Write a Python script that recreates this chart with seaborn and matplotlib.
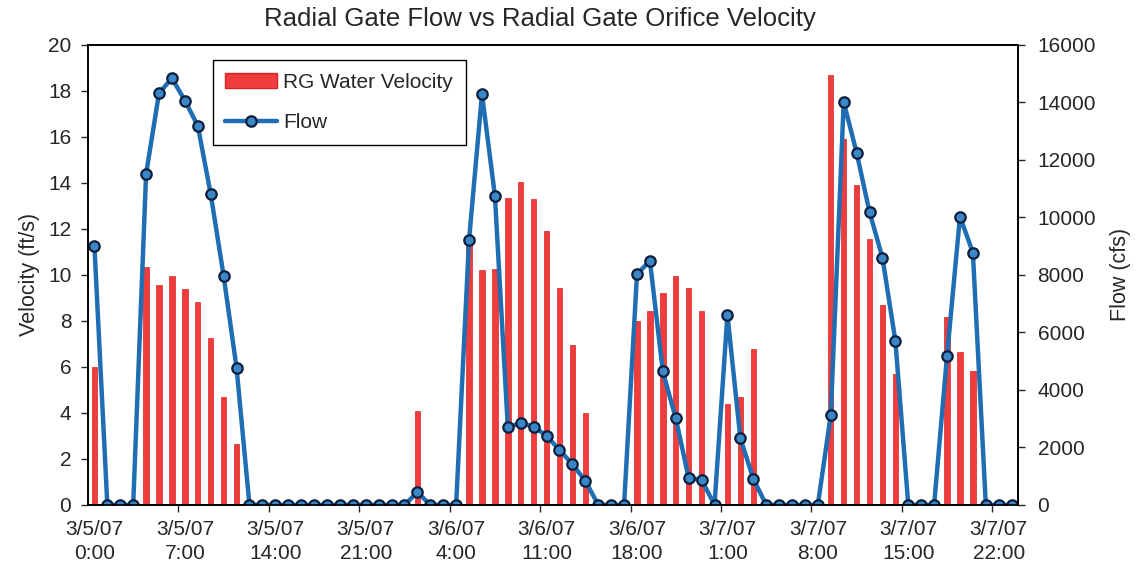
# Radial gate flow vs orifice velocity, 3/5/07 - 3/7/07 (hourly)
import numpy as np
import matplotlib
matplotlib.use("Agg")
import matplotlib.pyplot as plt
from matplotlib.patches import Patch
from matplotlib.lines import Line2D
import seaborn as sns

# hourly index 0..71 starting 3/5/07 0:00
hours = list(range(72))

# RG water velocity (ft/s), left axis
velocity = [6.0, 0, 0, 0, 10.35, 9.58, 9.93, 9.4, 8.8, 7.25, 4.68, 2.64,
            0, 0, 0, 0, 0, 0, 0, 0, 0, 0, 0, 0, 0,
            4.1, 0, 0, 0,
            11.3, 10.2, 10.25, 13.36, 14.03, 13.3, 11.91, 9.45, 6.93, 3.99,
            0, 0, 0,
            8.0, 8.45, 9.23, 9.96, 9.42, 8.45, 0, 4.39, 4.68, 6.78,
            0, 0, 0, 0, 0,
            18.7, 15.9, 13.9, 11.57, 8.67, 5.68,
            0, 0, 0,
            8.16, 6.64, 5.83,
            0, 0, 0]

# flow (cfs), right axis
flow = [9000, 0, 0, 0, 11510, 14320, 14840, 14065, 13190, 10815, 7970, 4775,
        0, 0, 0, 0, 0, 0, 0, 0, 0, 0, 0, 0, 0,
        440, 0, 0, 0,
        9215, 14290, 10760, 2705, 2840, 2725, 2400, 1910, 1415, 835,
        0, 0, 0,
        8025, 8490, 4640, 3015, 930, 870, 0, 6610, 2320, 910,
        0, 0, 0, 0, 0,
        3130, 14010, 12255, 10185, 8600, 5705,
        0, 0, 0,
        5190, 10030, 8775,
        0, 0, 0]

tick_pos = [0, 7, 14, 21, 28, 35, 42, 49, 56, 63, 70]
tick_labels = ["3/5/07\n0:00", "3/5/07\n7:00", "3/5/07\n14:00", "3/5/07\n21:00",
               "3/6/07\n4:00", "3/6/07\n11:00", "3/6/07\n18:00", "3/7/07\n1:00",
               "3/7/07\n8:00", "3/7/07\n15:00", "3/7/07\n22:00"]

sns.set_style("ticks")
plt.rcParams['font.family'] = ['Liberation Sans', 'DejaVu Sans']

bar_color = '#f03c3c'
line_color = '#1f6db3'

fig, ax = plt.subplots(figsize=(11.35, 5.83), dpi=100)
fig.subplots_adjust(left=0.0775, right=0.897, top=0.923, bottom=0.134)

# bars - velocity
sns.barplot(x=hours, y=velocity, ax=ax, color=bar_color, saturation=1,
            width=0.42, edgecolor='#d82424', linewidth=0.5)
ax.set_xlim(-0.5, 71.5)
ax.set_ylim(0, 20)
ax.set_yticks(np.arange(0, 21, 2))
ax.set_xticks(tick_pos, tick_labels)
ax.set_xticks([p - 0.5 for p in tick_pos[1:]], minor=True)
ax.tick_params(axis='x', which='major', length=0, pad=11, labelsize=15)
ax.tick_params(axis='x', which='minor', length=5, width=1, direction='out')
ax.tick_params(axis='y', length=5, width=1, pad=7, labelsize=15)
for t in ax.get_xticklabels():
    t.set_linespacing(1.3)
ax.set_ylabel('Velocity (ft/s)', fontsize=15.5, labelpad=6)
ax.set_xlabel('')

# line - flow
ax2 = ax.twinx()
sns.lineplot(x=hours, y=flow, ax=ax2, color=line_color, linewidth=3.2,
             marker='o', markersize=7.5, markerfacecolor='#3a87c8',
             markeredgecolor='#0e1f3d', markeredgewidth=1.6, legend=False)
ax2.set_ylim(0, 16000)
ax2.set_yticks(np.arange(0, 16001, 2000))
ax2.tick_params(axis='y', length=5, width=1, pad=9, labelsize=15)
ax2.set_ylabel('Flow (cfs)', fontsize=15.5, labelpad=10)

for a in (ax, ax2):
    for s in a.spines.values():
        s.set_color('black')
        s.set_linewidth(1.2)

handles = [Patch(facecolor=bar_color, edgecolor='#d82424'),
           Line2D([], [], color=line_color, linewidth=3.2, marker='o', markersize=7.5,
                  markerfacecolor='#3a87c8', markeredgecolor='#0e1f3d', markeredgewidth=1.6)]
leg = ax2.legend(handles, ['RG Water Velocity', 'Flow'], loc='upper left',
                 bbox_to_anchor=(0.134, 0.967), fontsize=15, frameon=True,
                 fancybox=False, framealpha=1, edgecolor='black',
                 handlelength=2.5, handletextpad=0.3, labelspacing=1.05,
                 borderpad=0.6, borderaxespad=0)
leg.get_frame().set_linewidth(1.0)

fig.suptitle('Radial Gate Flow vs Radial Gate Orifice Velocity', fontsize=18.5,
             x=0.476, y=0.988)

plt.savefig('out.png', dpi=100)
